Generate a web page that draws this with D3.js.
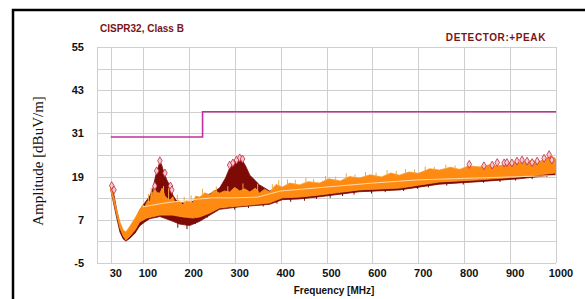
<!DOCTYPE html>
<html>
<head>
<meta charset="utf-8">
<script src="https://cdn.jsdelivr.net/npm/d3@7"></script>
<style>
  body { margin: 0; background: #fff; }
  svg { display: block; }
  .tick-label { font-family: "Liberation Sans", Arial, sans-serif; font-weight: bold; font-size: 11px; fill: #111; }
  .head { font-family: "Liberation Sans", Arial, sans-serif; font-weight: bold; font-size: 10px; fill: #7a1418; }
</style>
</head>
<body>
<div id="chart"></div>
<script>
const freqTicks = [30, 100, 200, 300, 400, 500, 600, 700, 800, 900, 1000];
const ampTicks = [-5, 7, 19, 31, 43, 55];
const ampGrid = [-5, 1, 7, 13, 19, 25, 31, 37, 43, 49, 55];

// class B limit (10 m)
const limitFreq = [30, 230, 230, 1000];
const limitAmp = [30, 30, 37, 37];

// peak trace envelope [MHz, dBuV/m]
const peakTop = [[30,16.4],[37,13.9],[43,9.7],[50,5.6],[57,3.6],[63,3.3],[72,4.7],[83,6.9],[93,9.7],[104,11.7],[115,13.6],[122,15.8],[128,19.4],[133,21.4],[137,23.3],[141,22.2],[146,20],[152,18.1],[159,16.4],[165,13.9],[172,12.5],[180,11.7],[202,11.7],[224,13.1],[246,14.2],[267,15.8],[280,18.6],[289,21.4],[298,23.1],[307,24.2],[315,23.9],[324,21.9],[333,19.4],[343,18.1],[354,16.7],[376,15.0],[404,15.6],[441,16.2],[485,16.8],[572,18.2],[659,19.0],[746,20.3],[833,21.3],[920,22.5],[998,23.8]];
const peakBot = [[30,15.3],[37,11.1],[43,7.5],[50,3.6],[57,1.7],[63,1.1],[72,1.9],[83,3.3],[93,5.3],[104,6.4],[115,7.3],[137,7.9],[159,6.9],[180,5.8],[202,5.4],[224,6.6],[246,8.3],[267,9.9],[311,10.6],[376,11.3],[404,12.6],[441,12.8],[485,13.4],[572,14.8],[659,15.3],[746,16.9],[833,17.6],[920,18.4],[998,19.5]];

// second trace (orange) envelope
const qpTop = [[30,16.1],[37,13.1],[43,9.7],[50,6.4],[57,4.2],[63,3.6],[72,5.3],[83,7.5],[93,9.7],[100,11.2],[104,10.6],[110,12.2],[115,12.0],[120,14.8],[122,13.2],[126,15.6],[130,14.6],[137,14.4],[142,15.8],[148,13.6],[153,12.9],[159,12.5],[165,13.4],[170,11.7],[178,12.4],[187,11.1],[195,12.3],[209,11.7],[215,13.6],[224,13.3],[235,14.5],[246,13.9],[255,15.2],[267,14.4],[278,15.0],[289,14.7],[300,16.0],[311,15.0],[322,15.6],[333,14.7],[345,15.8],[354,14.4],[365,15.5],[376,14.7],[390,16.8],[404,16.1],[420,17.2],[441,16.7],[460,17.6],[485,17.2],[505,18.4],[530,17.8],[550,19.0],[572,18.6],[595,19.5],[620,18.9],[640,20.0],[659,19.4],[680,20.3],[700,19.9],[725,21.2],[746,20.8],[770,21.6],[790,21.0],[810,22.0],[833,21.7],[855,22.3],[875,21.9],[900,23.0],[920,22.9],[945,23.4],[965,23.1],[985,24.6],[998,24.2]];
const qpBot = [[30,15.3],[37,11.7],[43,8.3],[50,4.7],[57,2.5],[63,1.4],[72,2.5],[83,4.2],[93,6.4],[109,7.5],[137,8.3],[165,8.3],[187,7.8],[209,7.5],[224,7.8],[246,8.9],[267,10.3],[289,10.6],[333,11.1],[376,11.7],[404,13.1],[441,13.3],[485,13.9],[572,15.3],[659,15.8],[746,17.5],[833,18.1],[920,18.9],[998,20.0]];

// upward spikes of the orange trace and downward spikes of the peak trace [MHz, dBuV/m]
const qpSpikes = [[112,14.2],[118,15.9],[124,17.0],[145,16.4],[156,15.8],[175,14.0],[190,13.4],[205,13.8],[230,15.6],[260,16.2],[285,16.3],[318,17.1],[350,17.0],[382,16.9],[396,18.0],[415,18.2],[432,18.1],[455,18.6],[472,18.3],[498,19.2],[520,19.0],[543,19.9],[562,19.6],[585,20.3],[608,20.1],[632,20.8],[652,20.6],[672,21.1],[692,21.0],[715,21.8],[735,21.7],[760,22.3],[780,22.1]];
const peakSpikes = [[176,4.8],[196,4.4],[214,5.8],[240,7.6],[300,9.8],[330,10.3],[362,10.7],[392,11.5],[422,12.0],[452,12.3],[478,12.8],[508,13.1],[535,13.6],[560,14.0],[598,14.3],[628,14.7],[668,15.0],[698,15.6],[722,16.0],[762,16.5],[798,16.8],[842,17.3],[878,17.5],[912,17.9],[948,18.3],[980,18.9]];

// average line
const avgLine = [[100,10.6],[150,11.7],[200,12.5],[250,13.1],[300,13.1],[350,13.3],[400,15.0],[500,16.1],[600,17.2],[700,18.1],[800,18.5],[900,18.9],[1000,19.3]];

// peak markers
const markers = [[32,16.5],[37,15.3],[126,16.4],[130,20.6],[137,23.4],[148,20.0],[160,16.4],[163,15.3],[289,22.2],[296,22.8],[304,23.6],[311,24.2],[317,23.9],[811,22.4],[843,22.0],[861,22.2],[872,22.9],[887,22.8],[893,22.9],[904,22.8],[915,23.3],[926,23.6],[937,23.3],[948,22.9],[959,23.3],[974,24.1],[985,25.1],[991,23.6]];

const W = 585, H = 299;
const plot = { left: 97, right: 556, top: 47, bottom: 263 };

const svg = d3.select("#chart").append("svg")
    .attr("width", W)
    .attr("height", H);

// outer frame
svg.append("rect")
    .attr("x", 13).attr("y", 10)
    .attr("width", W + 10).attr("height", H + 10)
    .attr("fill", "none")
    .attr("stroke", "#000")
    .attr("stroke-width", 2.5);

const x = d3.scaleLinear().domain([0, 1000]).range([plot.left, plot.right]);
const y = d3.scaleLinear().domain([-5, 55]).range([plot.bottom, plot.top]);

// grid
svg.append("g").selectAll("line")
    .data(ampGrid)
    .join("line")
    .attr("x1", plot.left).attr("x2", plot.right)
    .attr("y1", d => Math.round(y(d)) + 0.5).attr("y2", d => Math.round(y(d)) + 0.5)
    .attr("stroke", "#cfcfcf");

svg.append("g").selectAll("line")
    .data([0].concat(freqTicks))
    .join("line")
    .attr("x1", d => Math.round(x(d)) + 0.5).attr("x2", d => Math.round(x(d)) + 0.5)
    .attr("y1", plot.top).attr("y2", plot.bottom)
    .attr("stroke", "#cfcfcf");

// tick labels
svg.append("g").selectAll("text")
    .data(ampTicks)
    .join("text")
    .attr("class", "tick-label")
    .attr("x", 84)
    .attr("y", d => y(d) + 4)
    .attr("text-anchor", "end")
    .text(d => d);

svg.append("g").selectAll("text")
    .data(freqTicks)
    .join("text")
    .attr("class", "tick-label")
    .attr("x", d => x(d) + 5)
    .attr("y", 277)
    .attr("text-anchor", "middle")
    .text(d => d);

// traces
const area = d3.area()
    .x(d => x(d[0]))
    .y0(d => y(d[2]))
    .y1(d => y(d[1]));

function edge(pts) {
    return d3.scaleLinear().domain(pts.map(d => d[0])).range(pts.map(d => d[1]));
}

function band(top, bot) {
    const lo = edge(bot), hi = edge(top);
    const fs = Array.from(new Set(top.map(d => d[0]).concat(bot.map(d => d[0])))).sort((a, b) => a - b);
    return fs.map(f => [f, hi(f), lo(f)]);
}

svg.append("path")
    .datum(band(peakTop, peakBot))
    .attr("d", area)
    .attr("fill", "#7d0a05")
    .attr("stroke", "#7d0a05")
    .attr("stroke-width", 0.8);

const peakLo = edge(peakBot);
svg.append("g").selectAll("line")
    .data(peakSpikes)
    .join("line")
    .attr("x1", d => x(d[0])).attr("x2", d => x(d[0]))
    .attr("y1", d => y(peakLo(d[0])) - 1).attr("y2", d => y(d[1]))
    .attr("stroke", "#6e0804")
    .attr("stroke-width", 1);

svg.append("path")
    .datum(band(qpTop, qpBot))
    .attr("d", area)
    .attr("fill", "#ff8a12")
    .attr("stroke", "#f89a2a")
    .attr("stroke-width", 0.8);

const qpHi = edge(qpTop);
svg.append("g").selectAll("line")
    .data(qpSpikes)
    .join("line")
    .attr("x1", d => x(d[0])).attr("x2", d => x(d[0]))
    .attr("y1", d => y(qpHi(d[0])) + 1).attr("y2", d => y(d[1]))
    .attr("stroke", "#f2a646")
    .attr("stroke-width", 1);

svg.append("path")
    .datum(avgLine)
    .attr("d", d3.line().x(d => x(d[0])).y(d => y(d[1])))
    .attr("fill", "none")
    .attr("stroke", "#ffd9a8")
    .attr("stroke-width", 1);

// limit line
svg.append("path")
    .datum(limitFreq.map((f, i) => [f, limitAmp[i]]))
    .attr("d", d3.line().x(d => x(d[0])).y(d => y(d[1])))
    .attr("fill", "none")
    .attr("stroke", "#c42f9e")
    .attr("stroke-width", 1.6);

// markers
svg.append("g").selectAll("path")
    .data(markers)
    .join("path")
    .attr("transform", d => `translate(${x(d[0])},${y(d[1])})`)
    .attr("d", d3.symbol().type(d3.symbolDiamond).size(18))
    .attr("fill", "#f6c9cf")
    .attr("stroke", "#c0283e")
    .attr("stroke-width", 0.8);

// titles
svg.append("text")
    .attr("class", "head")
    .attr("x", 100).attr("y", 32)
    .text("CISPR32, Class B");

svg.append("text")
    .attr("class", "head")
    .attr("x", 546).attr("y", 41)
    .attr("text-anchor", "end")
    .attr("letter-spacing", 0.6)
    .text("DETECTOR:+PEAK");

svg.append("text")
    .attr("class", "tick-label")
    .style("font-size", "10px")
    .attr("x", 334).attr("y", 294)
    .attr("text-anchor", "middle")
    .text("Frequency [MHz]");

svg.append("text")
    .attr("transform", "translate(43,161) rotate(-90)")
    .attr("text-anchor", "middle")
    .style("font-family", "'Liberation Serif', 'Times New Roman', serif")
    .style("font-size", "15px")
    .attr("fill", "#111")
    .text("Amplitude [dBuV/m]");
</script>
</body>
</html>
